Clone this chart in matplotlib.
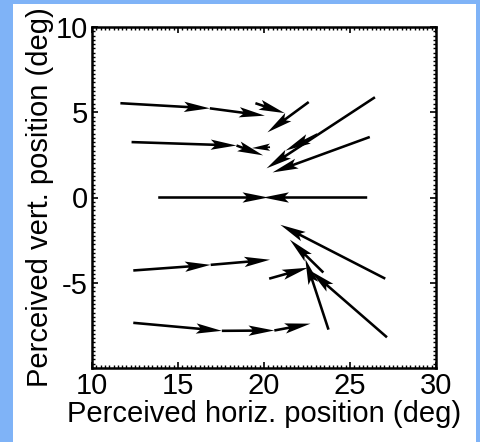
import matplotlib
matplotlib.use('Agg')
import matplotlib.pyplot as plt
from matplotlib.patches import Rectangle
from matplotlib.ticker import MultipleLocator
import numpy as np

plt.rcParams['font.family'] = ['Liberation Sans', 'DejaVu Sans']
plt.rcParams['axes.unicode_minus'] = False

# perceived positions along each path (deg); an arrow joins successive points
path_x = [
    [11.65, 16.85, 20.05],
    [19.5, 21.2],
    [22.6, 20.2],
    [12.3, 18.4, 19.95],
    [20.35, 19.3],
    [26.45, 20.15],
    [23.1, 21.25],
    [26.15, 20.5],
    [13.85, 20.25],
    [26.0, 19.95],
    [27.05, 20.95],
    [12.4, 16.9, 20.35],
    [20.3, 22.55],
    [23.45, 21.5],
    [23.75, 22.4],
    [27.15, 22.7],
    [12.4, 17.55, 20.6, 22.7],
]
path_y = [
    [5.53, 5.23, 4.8],
    [5.53, 4.95],
    [5.6, 3.82],
    [3.25, 3.05, 2.47],
    [2.95, 2.9],
    [5.88, 1.71],
    [3.7, 2.75],
    [3.55, 1.47],
    [0.0, 0.0],
    [0.0, 0.0],
    [-4.76, -1.6],
    [-4.28, -3.95, -3.65],
    [-4.76, -4.12],
    [-4.4, -2.47],
    [-7.75, -3.6],
    [-8.2, -4.3],
    [-7.35, -7.82, -7.8, -7.4],
]

xticks = [10, 15, 20, 25, 30]
yticks = [-5, 0, 5, 10]

fig = plt.figure(figsize=(4.81, 4.42), dpi=100)
fig.patch.set_facecolor('#7fb3f7')
# white sheet on top of the blue backdrop
fig.add_artist(Rectangle((13 / 481, 0), 463 / 481, 1 - 4 / 442,
                         transform=fig.transFigure, facecolor='white',
                         edgecolor='none', zorder=0))

ax = fig.add_axes([92 / 481, 1 - 368 / 442, 344 / 481, 341 / 442])
ax.set_facecolor('white')

for px, py in zip(path_x, path_y):
    px = np.asarray(px)
    py = np.asarray(py)
    ax.quiver(px[:-1], py[:-1], np.diff(px), np.diff(py),
              angles='xy', scale_units='xy', scale=1,
              color='black', width=0.0075, headwidth=4.0,
              headlength=10.0, headaxislength=8.5, zorder=3)

ax.set_xlim(10, 30)
ax.set_ylim(-10, 10)
ax.set_xticks(xticks)
ax.set_yticks(yticks)
ax.xaxis.set_minor_locator(MultipleLocator(0.25))
ax.yaxis.set_minor_locator(MultipleLocator(0.25))
ax.tick_params(which='both', direction='in', top=True, right=True)
ax.tick_params(which='major', length=4, width=1.2, labelsize=21, pad=3)
ax.tick_params(which='minor', length=2, width=1.0)
for s in ax.spines.values():
    s.set_linewidth(1.8)

ax.set_xlabel('Perceived horiz. position (deg)', fontsize=21, labelpad=0)
ax.set_ylabel('Perceived vert. position (deg)', fontsize=21, labelpad=1)

fig.savefig('out.png', dpi=100, facecolor=fig.get_facecolor())
